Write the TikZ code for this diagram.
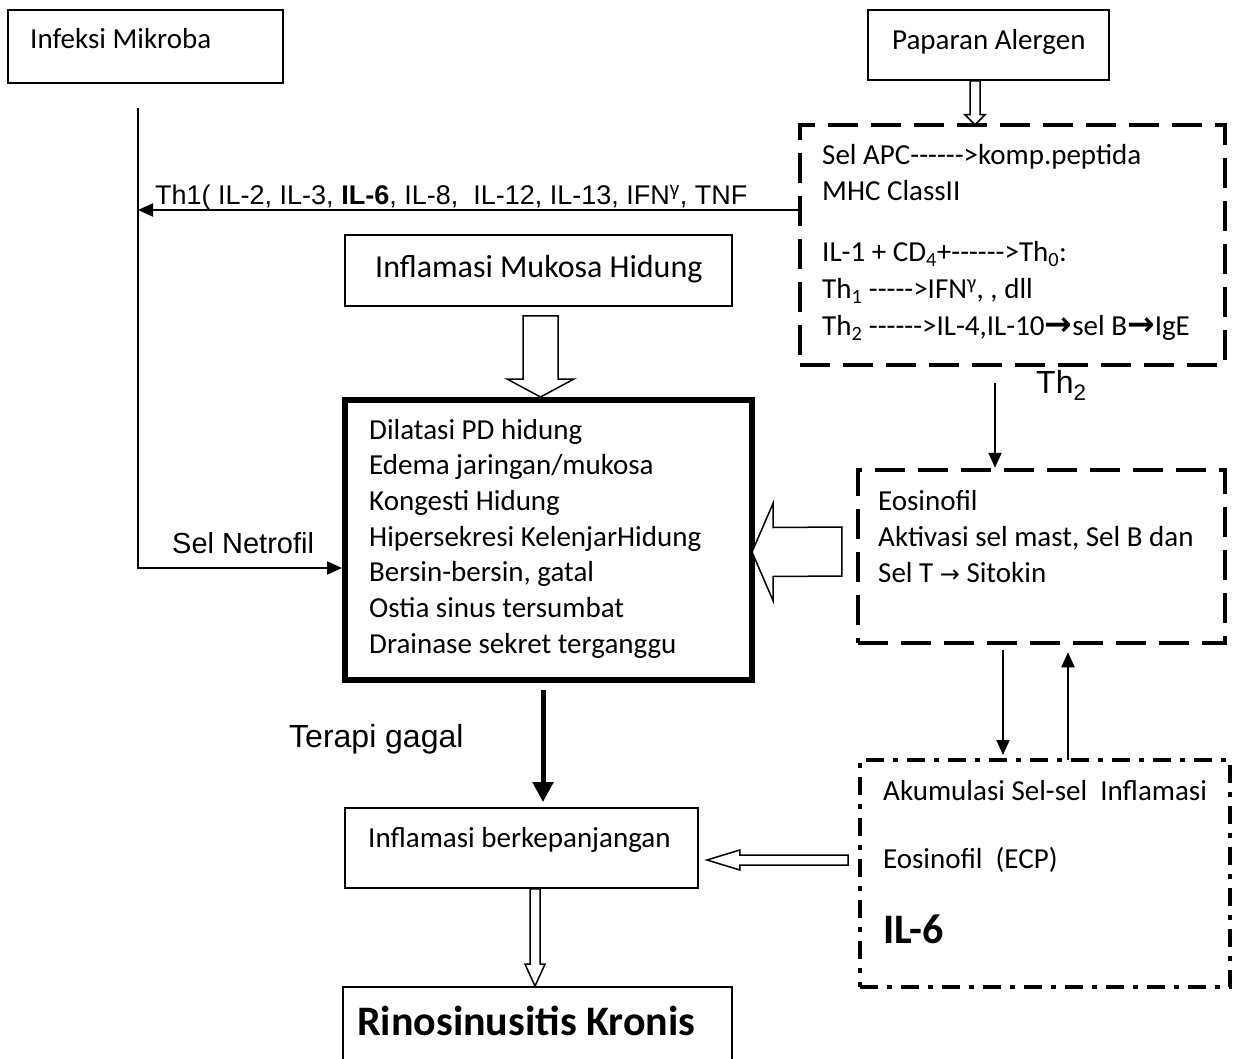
\documentclass[tikz,border=0pt]{standalone}
\usepackage{fontspec}
\setmainfont{Carlito}[Ligatures=TeXOff]
\newfontfamily\arial{Liberation Sans}
\newfontfamily\simbol{DejaVu Sans}
\usetikzlibrary{arrows.meta,calc,fit}

\newcommand{\tebalpanah}{{\simbol\bfseries\fontsize{33}{36}\selectfont →}}
\newcommand{\tipispanah}{{\simbol\fontsize{24}{30}\selectfont →}}

% hollow block arrows: start, tip, shaft half, head half, head length
\newcommand{\kosongbawah}[5]{%
  \draw[hollow] ($(#1)+(-#3,0)$) -- ($(#2)+(-#3,-#5)$) -- ($(#2)+(-#4,-#5)$) -- (#2)
    -- ($(#2)+(#4,-#5)$) -- ($(#2)+(#3,-#5)$) -- ($(#1)+(#3,0)$) -- cycle;}
\newcommand{\kosongkiri}[5]{%
  \draw[hollow] ($(#1)+(0,-#3)$) -- ($(#2)+(#5,-#3)$) -- ($(#2)+(#5,-#4)$) -- (#2)
    -- ($(#2)+(#5,#4)$) -- ($(#2)+(#5,#3)$) -- ($(#1)+(0,#3)$) -- cycle;}

\tikzset{
  kotak/.style={draw, line width=1.8pt, inner sep=0pt},
  tebal/.style={draw, line width=6pt, inner sep=0pt},
  putus/.style={draw, line width=4.5pt, inner sep=0pt, dash pattern=on 30pt off 13pt},
  titik/.style={draw, line width=4pt, inner sep=0pt, dash pattern=on 18pt off 9pt on 5pt off 9pt},
  teks/.style={anchor=base west, inner sep=0pt, font=\fontsize{29}{36}\selectfont},
  label/.style={anchor=base west, inner sep=0pt, font=\arial\fontsize{29}{34}\selectfont},
  hollow/.style={draw, line width=1.5pt, fill=white, line join=miter},
  panah/.style={line width=2pt, ->},
}

\begin{document}
\begin{tikzpicture}[x=1pt, y=-1pt, >={Triangle[length=15pt,width=13pt]}]
  \useasboundingbox (0,0) rectangle (1237,1059);
  \clip (0,0) rectangle (1237,1059);

  % boxes
  \node[kotak, fit={(8,10) (283,83)}] (mikroba) {};
  \node[kotak, fit={(868,10) (1109,80)}] (alergen) {};
  \node[putus, fit={(800,125) (1225,365)}] (apc) {};
  \node[kotak, fit={(345,235) (732,306)}] (mukosa) {};
  \node[tebal, fit={(345,400) (752,680)}] (gejala) {};
  \node[putus, fit={(858,470) (1225,643)}] (eos) {};
  \node[titik, fit={(860,760) (1230,987)}] (akumulasi) {};
  \node[kotak, fit={(345,808) (698,888)}] (kronis) {};
  \node[kotak, fit={(343,987) (732,1075)}] (rino) {};

  % texts
  \node[teks] (mikroba-t) at (30,49) {Infeksi Mikroba};
  \node[teks] (alergen-t) at (892,50) {Paparan Alergen};
  \foreach \yy/\t in {165/{Sel APC------>komp.peptida}, 201/{MHC ClassII},
      262/{IL-1 + CD\textsubscript{4}+------>Th\textsubscript{0}:},
      299/{Th\textsubscript{1} ----->IFN\textsuperscript{γ}, , dll},
      336/{Th\textsubscript{2} ------>IL-4,IL-10\tebalpanah sel B\tebalpanah IgE}}
    \node[teks] (apc-\yy) at (822,\yy) {\t};
  \node[teks, font=\fontsize{32}{38}\selectfont] (mukosa-t) at (375,278) {Inflamasi Mukosa Hidung};
  \foreach \t [count=\i] in {Dilatasi PD hidung, Edema jaringan/mukosa, Kongesti Hidung,
      Hipersekresi KelenjarHidung, {Bersin-bersin, gatal}, Ostia sinus tersumbat,
      Drainase sekret terganggu}
    \node[teks] (gejala-\i) at (369,{439+35.7*(\i-1)}) {\t};
  \node[teks] (eos-1) at (878,510) {Eosinofil};
  \node[teks] (eos-2) at (878,546) {Aktivasi sel mast, Sel B dan};
  \node[teks] (eos-3) at (878,582) {Sel T \tipispanah\ Sitokin};
  \node[teks] (akumulasi-1) at (883,800) {Akumulasi Sel-sel\ \ Inflamasi};
  \node[teks] (akumulasi-2) at (883,868) {Eosinofil\ \ (ECP)};
  \node[teks, font=\bfseries\fontsize{42}{48}\selectfont] (akumulasi-3) at (883,943) {IL-6};
  \node[teks] (kronis-t) at (368,847) {Inflamasi berkepanjangan};
  \node[teks, font=\bfseries\fontsize{42}{48}\selectfont] (rino-t) at (357,1035) {Rinosinusitis Kronis};
  \node[label, font=\arial\fontsize{27}{32}\selectfont] (th1-t) at (155,205)
    {Th1( IL-2, IL-3, \textbf{IL-6}, IL-8,\ \ IL-12, IL-13, IFN\textsuperscript{γ}, TNF};
  \node[label] (netrofil-t) at (172,553) {Sel Netrofil};
  \node[label, font=\arial\fontsize{32}{38}\selectfont] (terapi-t) at (289,747) {Terapi gagal};
  \node[label, font=\arial\fontsize{32}{38}\selectfont] (th2-t) at (1036,393) {Th\textsubscript{2}};

  % solid connectors
  \coordinate (th1) at (138,210);
  \coordinate (netrofil-atas) at (138,108);
  \coordinate (netrofil-siku) at (138,568);
  \draw[panah] (th1 -| apc.west) -- (th1);
  \draw[panah] (netrofil-atas) -- (netrofil-siku) -- (netrofil-siku -| gejala.west);
  \draw[line width=5pt, -{Triangle[length=20pt,width=20pt]}]
    ($(gejala.south)+(-5.5,7)$) -- ($(kronis.north)+(21.5,-5)$);
  \draw[panah] ($(apc.south)+(-17.5,16)$) -- ($(eos.north)+(-46.5,0)$);
  \draw[panah] ($(eos.south)+(-38.5,5)$) -- ($(akumulasi.north)+(-42,-3)$);
  \draw[panah] ($(akumulasi.north)+(23,2)$) -- ($(eos.south)+(26.5,7)$);

  % hollow connectors
  \coordinate (alergen-out) at ($(alergen.south)+(-13.5,0)$);
  \coordinate (apc-in) at ($(apc.north)+(-37.5,2)$);
  \kosongbawah{alergen-out}{apc-in}{5}{10}{10}
  \coordinate (mukosa-out) at ($(mukosa.south)+(2,9)$);
  \coordinate (gejala-in) at ($(gejala.north)+(-8,0)$);
  \kosongbawah{mukosa-out}{gejala-in}{17.5}{33.5}{18}
  \coordinate (eos-out) at ($(eos.west)+(-14,-5)$);
  \coordinate (gejala-kanan) at ($(gejala.east)+(-3,12)$);
  \kosongkiri{eos-out}{gejala-kanan}{24.5}{48.5}{21}
  \coordinate (akumulasi-out) at ($(akumulasi.west)+(-10,-13.5)$);
  \coordinate (kronis-kanan) at ($(kronis.east)+(8,12)$);
  \kosongkiri{akumulasi-out}{kronis-kanan}{5}{10}{33}
  \coordinate (kronis-out) at ($(kronis.south)+(13.5,0)$);
  \coordinate (rino-in) at ($(rino.north)+(-2.5,0)$);
  \kosongbawah{kronis-out}{rino-in}{5}{10}{22}
\end{tikzpicture}
\end{document}
